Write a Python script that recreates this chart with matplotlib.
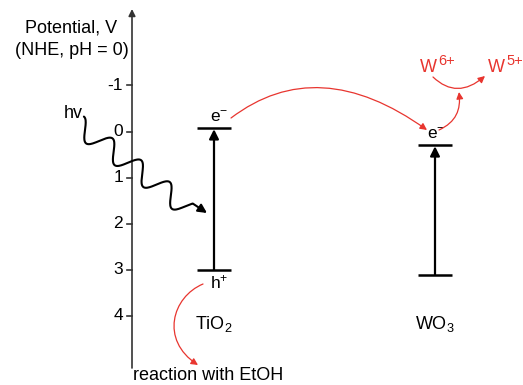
import numpy as np
import matplotlib
matplotlib.use("Agg")
import matplotlib.pyplot as plt
from matplotlib.path import Path
from matplotlib.patches import FancyArrowPatch

plt.rcParams['font.family'] = ['Liberation Sans', 'DejaVu Sans']
plt.rcParams['mathtext.fontset'] = 'custom'
plt.rcParams['mathtext.rm'] = 'Liberation Sans'
plt.rcParams['mathtext.default'] = 'regular'

# ---- data ----
tick_values = [-1, 0, 1, 2, 3, 4]
tick_labels = ['-1', '0', '1', '2', '3', '4']
materials = ['TiO$_2$', 'WO$_3$']
cb_edges = [-0.08, 0.29]   # conduction band (V vs NHE)
vb_edges = [3.00, 3.11]    # valence band (V vs NHE)

RED = '#e8352f'
FS = 13

fig = plt.figure(figsize=(5.23, 3.85), dpi=100)
# main axes: x in pixel-like units, y in volts (inverted)
ax = fig.add_axes([0, 0, 1, 1])
ax.set_xlim(0, 523)
px0, ppv = 131.5, 46.1
ax.set_ylim((385 - px0) / ppv, (0 - px0) / ppv)
ax.axis('off')

# overlay axes in pixel coordinates for decorations
deco = fig.add_axes([0, 0, 1, 1], facecolor='none')
deco.set_xlim(0, 523)
deco.set_ylim(385, 0)
deco.axis('off')

# potential axis
axis_x = 132
ax.annotate('', xy=(axis_x, (9 - px0) / ppv), xytext=(axis_x, (368 - px0) / ppv),
            arrowprops=dict(arrowstyle='-|>', color='#333333', lw=1.2,
                            mutation_scale=10, shrinkA=0, shrinkB=0))
for v, lab in zip(tick_values, tick_labels):
    ax.plot([axis_x - 5, axis_x], [v, v], color='#333333', lw=1.2)
    ax.text(axis_x - 9, v, lab, ha='right', va='center', fontsize=FS - 0.5)

ax.text(71, (28 - px0) / ppv, 'Potential, V', ha='center', va='center', fontsize=FS)
ax.text(72, (50 - px0) / ppv, '(NHE, pH = 0)', ha='center', va='center', fontsize=FS)

# band levels
centers = [214, 435]
half = 17
for xc, cb, vb, name in zip(centers, cb_edges, vb_edges, materials):
    ax.plot([xc - half, xc + half], [cb, cb], color='black', lw=1.8, solid_capstyle='butt')
    ax.plot([xc - half, xc + half], [vb, vb], color='black', lw=1.8, solid_capstyle='butt')
    ax.annotate('', xy=(xc, cb), xytext=(xc, vb),
                arrowprops=dict(arrowstyle='-|>', color='black', lw=1.6,
                                mutation_scale=14, shrinkA=0, shrinkB=1))
    ax.text(xc, (324 - px0) / ppv, name, ha='center', va='center', fontsize=FS)

# electron / hole labels
ax.text(centers[0] + 5, cb_edges[0] - 0.07, 'e$^{-}$', ha='center', va='bottom', fontsize=FS - 0.5)
ax.text(centers[0] + 5, vb_edges[0] + 0.07, 'h$^{+}$', ha='center', va='top', fontsize=FS - 0.5)
ax.text(centers[1] + 1, cb_edges[1] - 0.07, 'e$^{-}$', ha='center', va='bottom', fontsize=FS - 0.5)

# hv label and wavy arrow (decorative sine along a diagonal)
deco.text(73, 114, 'hv', ha='center', va='center', fontsize=FS)
origin = np.array([85.0, 130.0])
d = np.array([0.795, 0.606])
m = np.array([-0.606, 0.795])
lam, amp = 36.0, 10.0
s = np.linspace(-lam / 4, 3 * lam + 0.62 * lam, 300)
pts = origin + np.outer(s, d) + np.outer(amp * np.sin(2 * np.pi * s / lam), m)
verts = [tuple(p) for p in pts] + [(207, 213)]
wave = FancyArrowPatch(path=Path(verts), arrowstyle='-|>', mutation_scale=13,
                       color='black', lw=1.5, shrinkA=0, shrinkB=0,
                       joinstyle='round', capstyle='round')
deco.add_patch(wave)

# red curved arrows
def red_arrow(verts, codes):
    arr = FancyArrowPatch(path=Path(verts, codes), arrowstyle='-|>',
                          mutation_scale=10, color=RED, lw=0.9,
                          shrinkA=0, shrinkB=0)
    deco.add_patch(arr)

# TiO2 e- -> WO3 e-
red_arrow([(231, 118), (318, 52), (427, 130)], [Path.MOVETO, Path.CURVE3, Path.CURVE3])
# h+ -> reaction with EtOH
red_arrow([(203, 284), (172, 297), (160, 340), (198, 365)],
          [Path.MOVETO, Path.CURVE4, Path.CURVE4, Path.CURVE4])
# WO3 e- -> up
red_arrow([(439, 130), (456, 122), (461, 110), (459, 92)],
          [Path.MOVETO, Path.CURVE4, Path.CURVE4, Path.CURVE4])
# W6+ -> W5+
red_arrow([(433, 77), (457, 100), (485, 76)], [Path.MOVETO, Path.CURVE3, Path.CURVE3])

deco.text(420, 72, 'W', ha='left', va='baseline', fontsize=FS, color=RED)
deco.text(438, 65, '6+', ha='left', va='baseline', fontsize=10.5, color=RED)
deco.text(488, 72, 'W', ha='left', va='baseline', fontsize=FS, color=RED)
deco.text(506, 65, '5+', ha='left', va='baseline', fontsize=10.5, color=RED)

deco.text(133, 376, 'reaction with EtOH', ha='left', va='center', fontsize=FS)

fig.savefig('out.png', dpi=100)
